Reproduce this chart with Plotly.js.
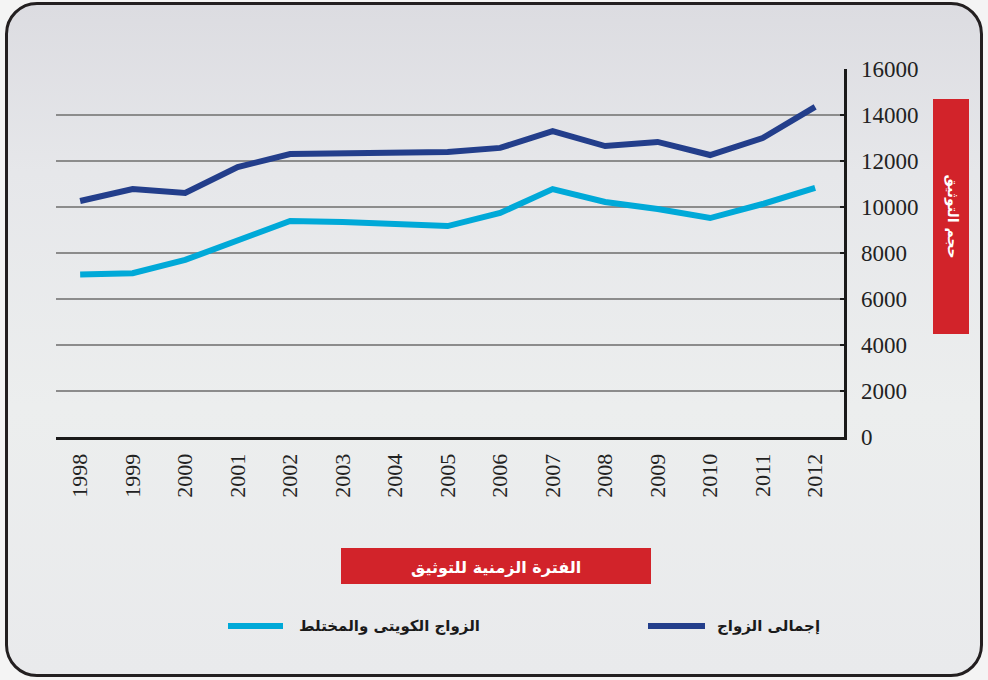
<!DOCTYPE html>
<html>
<head>
<meta charset="utf-8">
<script src="https://cdn.plot.ly/plotly-3.0.1.min.js"></script>
<style>
  html, body { margin: 0; padding: 0; background: #f4f4f4; }
  #wrap { position: relative; width: 988px; height: 680px; overflow: hidden; }
  #frame { position: absolute; left: 5px; top: 2px; width: 972px; height: 669px;
           border: 3px solid #231f20; border-radius: 32px;
           background: linear-gradient(180deg, #dcdce1 0%, #e6e7ea 25%, #eceeee 60%, #e9eaec 100%); }
  #chart { position: absolute; left: 0; top: 0; width: 988px; height: 680px; }
</style>
</head>
<body>
<div id="wrap">
  <div id="frame"></div>
  <div id="chart"></div>
</div>
<script>
// ---- data ----
const years = [1998, 1999, 2000, 2001, 2002, 2003, 2004, 2005, 2006, 2007, 2008, 2009, 2010, 2011, 2012];
const totalMarriage = [10260, 10780, 10610, 11740, 12300, 12330, 12350, 12390, 12570, 13300, 12650, 12830, 12260, 13000, 14350];
const kuwaitiMixed = [7070, 7120, 7700, 8570, 9390, 9350, 9260, 9170, 9740, 10780, 10220, 9910, 9520, 10130, 10830];
const seriesNames = ['إجمالى الزواج', 'الزواج الكويتى والمختلط'];
const yTicks = [0, 2000, 4000, 6000, 8000, 10000, 12000, 14000, 16000];
const yTickLabels = ['0', '2000', '4000', '6000', '8000', '10000', '12000', '14000', '16000'];
const xTitle = 'الفترة الزمنية للتوثيق';
const yTitle = 'حجم التوثيق';

const darkBlue = '#233e8b';
const cyan = '#00a9d8';
const red = '#d2232a';

// plot area geometry helpers (paper coords)
const L = 56, R = 844, T = 69, B = 437;
const px = v => (v - L) / (R - L);
const py = v => (B - v) / (B - T);

const traces = [
  { x: years, y: totalMarriage, name: seriesNames[0], type: 'scatter', mode: 'lines',
    line: { color: darkBlue, width: 6 }, showlegend: false },
  { x: years, y: kuwaitiMixed, name: seriesNames[1], type: 'scatter', mode: 'lines',
    line: { color: cyan, width: 6 }, showlegend: false }
];

const arabicFont = { family: 'DejaVu Sans, sans-serif', size: 15, color: '#1a1a1a', weight: 'bold' };

const layout = {
  width: 988, height: 680,
  margin: { l: L, r: 988 - R, t: T, b: 680 - B },
  paper_bgcolor: 'rgba(0,0,0,0)',
  plot_bgcolor: 'rgba(0,0,0,0)',
  showlegend: false,
  xaxis: {
    range: [years[0] - 0.46, years[years.length - 1] + 0.55],
    tickvals: years, ticktext: years.map(String),
    tickangle: -90, ticks: '', ticklabelstandoff: 5,
    showgrid: false, zeroline: false,
    showline: true, linecolor: '#1a1a1a', linewidth: 3,
    tickfont: { family: 'Liberation Serif, serif', size: 22, color: '#222' }
  },
  yaxis: {
    side: 'right', range: [0, 16000], tickvals: yTicks, ticktext: yTickLabels,
    ticks: 'inside', ticklen: 4, tickwidth: 2, tickcolor: '#1a1a1a',
    ticklabelstandoff: 10,
    showgrid: true, gridcolor: '#8c8c8c', gridwidth: 1.5,
    zeroline: false, showline: true, linecolor: '#1a1a1a', linewidth: 2.5,
    tickfont: { family: 'Liberation Serif, serif', size: 23, color: '#222' }
  },
  shapes: [
    { type: 'rect', xref: 'paper', yref: 'paper', x0: px(933), x1: px(969), y0: py(334), y1: py(99),
      fillcolor: red, line: { width: 0 } },
    { type: 'rect', xref: 'paper', yref: 'paper', x0: px(341), x1: px(651), y0: py(584), y1: py(548),
      fillcolor: red, line: { width: 0 } },
    { type: 'line', xref: 'paper', yref: 'paper', x0: px(648), x1: px(705), y0: py(626), y1: py(626),
      line: { color: darkBlue, width: 6 } },
    { type: 'line', xref: 'paper', yref: 'paper', x0: px(228), x1: px(283), y0: py(626), y1: py(626),
      line: { color: cyan, width: 6 } }
  ],
  annotations: [
    { xref: 'paper', yref: 'paper', x: px(963), y: py(216), text: yTitle, showarrow: false,
      textangle: 90, font: { family: 'DejaVu Sans, sans-serif', size: 14, color: '#ffffff', weight: 'bold' } },
    { xref: 'paper', yref: 'paper', x: px(496), y: py(579), text: xTitle, showarrow: false,
      font: { family: 'DejaVu Sans, sans-serif', size: 16, color: '#ffffff', weight: 'bold' } },
    { xref: 'paper', yref: 'paper', x: px(715), y: py(637), xanchor: 'left', text: seriesNames[0],
      showarrow: false, font: arabicFont },
    { xref: 'paper', yref: 'paper', x: px(297), y: py(637), xanchor: 'left', text: seriesNames[1],
      showarrow: false, font: arabicFont }
  ]
};

Plotly.newPlot('chart', traces, layout, { displayModeBar: false, staticPlot: true });
</script>
</body>
</html>
